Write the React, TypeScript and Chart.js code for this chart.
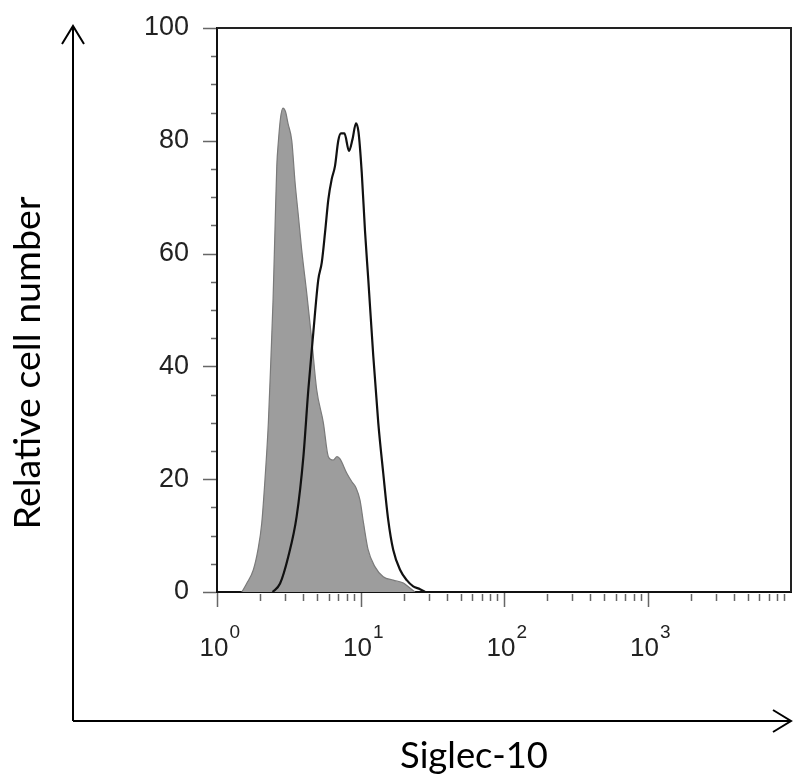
import React, { useEffect, useRef } from 'react';
import { Chart, registerables } from 'chart.js';

Chart.register(...registerables);

// Isotype control (filled grey histogram)
const isotypeX = [1.49, 1.61, 1.79, 1.93, 2.05, 2.16, 2.28, 2.38, 2.46, 2.54, 2.61, 2.68, 2.77, 2.88, 3.0, 3.13, 3.32, 3.5, 3.69, 3.89, 4.22, 4.57, 4.95, 5.51, 5.97, 6.46, 6.86, 7.2, 8.01, 8.73, 9.3, 9.92, 10.5, 11.3, 12.6, 14.4, 16.9, 19.9, 22.1, 24.0];
const isotypeY = [0, 1.5, 3.9, 7.5, 12.2, 20, 30, 42, 52, 65, 75.5, 80, 84, 85.8, 85.2, 83, 80, 72.6, 66.7, 60.7, 53, 44.8, 35.9, 30, 24, 23.4, 24, 23.6, 21.1, 19.5, 18.5, 16.3, 12.2, 7.5, 4.5, 2.7, 2.1, 1.6, 0.7, 0];

// Siglec-10 staining (black outline)
const siglecX = [2.44, 2.75, 3.14, 3.59, 4.0, 4.33, 4.69, 5.08, 5.37, 5.66, 5.97, 6.3, 6.64, 7.0, 7.31, 7.73, 8.32, 8.8, 9.3, 9.69, 10.2, 10.75, 11.33, 12.28, 13.3, 14.4, 15.6, 16.9, 18.9, 21.0, 23.3, 26.0, 28.2];
const siglecY = [0, 1.5, 6.3, 13.4, 24, 35.9, 46, 55.4, 58.4, 63.7, 69.6, 73.2, 75.5, 80, 81.3, 81.3, 78.2, 80.3, 83.1, 81.5, 74.4, 64, 55.4, 41.8, 30, 21.1, 12.8, 7.5, 3.9, 2.1, 1.0, 0.5, 0];

const yMin = 0;
const yMax = 100;
const yMajorStep = 20;
const yMinorStep = 5;
const xMin = 1;
const xMax = 10000;
const xDecades = [0, 1, 2, 3];
const xMinorMultipliers = [2, 3, 4, 5, 6, 7, 8, 9];

const yTitle = 'Relative cell number';
const xTitle = 'Siglec-10';

const TITLE_FONT = '"Lato", "Open Sans", sans-serif';
const TICK_FONT = '"Liberation Sans", Arial, sans-serif';

const decorPlugin = {
  id: 'decor',
  afterDraw(chart: any) {
    const { ctx, chartArea: a, scales } = chart;
    const xs = scales.x;
    const ys = scales.y;
    ctx.save();

    // plot frame (top and right)
    ctx.strokeStyle = '#222';
    ctx.lineWidth = 2;
    ctx.beginPath();
    ctx.moveTo(a.left, a.top);
    ctx.lineTo(a.right, a.top);
    ctx.lineTo(a.right, a.bottom);
    ctx.stroke();

    // y ticks
    ctx.strokeStyle = '#666';
    ctx.lineWidth = 1.5;
    ctx.beginPath();
    for (let v = yMin; v <= yMax; v += yMinorStep) {
      const y = Math.round(ys.getPixelForValue(v)) + 0.5;
      const len = v % yMajorStep === 0 ? 14 : 6;
      ctx.moveTo(a.left - len, y);
      ctx.lineTo(a.left - 1, y);
    }
    ctx.stroke();

    // x ticks
    ctx.beginPath();
    xDecades.forEach((d) => {
      const base = Math.pow(10, d);
      const xm = Math.round(xs.getPixelForValue(base)) + 0.5;
      ctx.moveTo(xm, a.bottom + 1);
      ctx.lineTo(xm, a.bottom + 15);
      xMinorMultipliers.forEach((m) => {
        const x = Math.round(xs.getPixelForValue(m * base)) + 0.5;
        ctx.moveTo(x, a.bottom + 2);
        ctx.lineTo(x, a.bottom + 9);
      });
    });
    ctx.stroke();

    // x tick labels 10^n
    ctx.fillStyle = '#222';
    ctx.textBaseline = 'alphabetic';
    xDecades.forEach((d) => {
      const x = xs.getPixelForValue(Math.pow(10, d));
      ctx.font = `26px ${TICK_FONT}`;
      ctx.textAlign = 'center';
      const baseText = '10';
      const w = ctx.measureText(baseText).width;
      const cx = x - 3;
      ctx.fillText(baseText, cx, 656);
      ctx.font = `19px ${TICK_FONT}`;
      ctx.textAlign = 'left';
      ctx.fillText(String(d), cx + w / 2 + 1, 638);
    });

    // arrows
    ctx.strokeStyle = '#000';
    ctx.lineWidth = 2;
    ctx.lineJoin = 'miter';
    ctx.beginPath();
    ctx.moveTo(73, 721);
    ctx.lineTo(73, 26);
    ctx.moveTo(62, 44);
    ctx.lineTo(73, 26);
    ctx.lineTo(84, 44);
    ctx.moveTo(73, 721);
    ctx.lineTo(791, 721);
    ctx.moveTo(773, 710);
    ctx.lineTo(791, 721);
    ctx.lineTo(773, 732);
    ctx.stroke();

    // titles
    ctx.fillStyle = '#000';
    const fit = (text: string, target: number) => {
      ctx.font = `40px ${TITLE_FONT}`;
      const w = ctx.measureText(text).width;
      return (40 * target) / w;
    };
    const ySize = fit(yTitle, 333);
    ctx.save();
    ctx.translate(40, 363);
    ctx.rotate(-Math.PI / 2);
    ctx.font = `${ySize}px ${TITLE_FONT}`;
    ctx.textAlign = 'center';
    ctx.textBaseline = 'alphabetic';
    ctx.fillText(yTitle, 0, 0);
    ctx.restore();

    const xSize = fit(xTitle, 148);
    ctx.font = `${xSize}px ${TITLE_FONT}`;
    ctx.textAlign = 'center';
    ctx.textBaseline = 'alphabetic';
    ctx.fillText(xTitle, 474, 768);

    ctx.restore();
  },
};

export default function App() {
  const ref = useRef<HTMLCanvasElement | null>(null);

  useEffect(() => {
    if (!ref.current) return;
    const isoData = isotypeX.map((x, i) => ({ x, y: isotypeY[i] }));
    const sigData = siglecX.map((x, i) => ({ x, y: siglecY[i] }));
    const chart = new Chart(ref.current, {
      type: 'line',
      data: {
        datasets: [
          {
            label: 'Siglec-10',
            data: sigData,
            borderColor: '#111',
            borderWidth: 2.2,
            fill: false,
            pointRadius: 0,
            cubicInterpolationMode: 'monotone',
            order: 0,
          },
          {
            label: 'Isotype',
            data: isoData,
            borderColor: '#7a7a7a',
            borderWidth: 1.2,
            backgroundColor: '#9d9d9d',
            fill: 'origin',
            pointRadius: 0,
            cubicInterpolationMode: 'monotone',
            order: 1,
          },
        ],
      },
      options: {
        animation: false,
        responsive: false,
        devicePixelRatio: 1,
        layout: { padding: { top: 28, right: 3, left: 0, bottom: 0 } },
        plugins: {
          legend: { display: false },
          tooltip: { enabled: false },
        },
        scales: {
          x: {
            type: 'logarithmic',
            min: xMin,
            max: xMax,
            ticks: { display: false },
            grid: { display: true, drawOnChartArea: false, drawTicks: false },
            border: { display: true, color: '#111', width: 2 },
            afterFit: (scale: any) => {
              scale.height = 188;
            },
          },
          y: {
            type: 'linear',
            min: yMin,
            max: yMax,
            ticks: {
              stepSize: yMajorStep,
              padding: 28,
              color: '#222',
              font: { family: TICK_FONT, size: 27 },
            },
            grid: { display: true, drawOnChartArea: false, drawTicks: false },
            border: { display: true, color: '#111', width: 2 },
            afterFit: (scale: any) => {
              scale.width = 217;
              scale.paddingTop = 0;
              scale.paddingBottom = 0;
            },
          },
        },
      },
      plugins: [decorPlugin],
    });
    return () => chart.destroy();
  }, []);

  return (
    <div style={{ position: 'fixed', left: 0, top: 0, width: 794, height: 780, background: '#fff' }}>
      <canvas ref={ref} width={794} height={780} style={{ display: 'block' }} />
    </div>
  );
}
